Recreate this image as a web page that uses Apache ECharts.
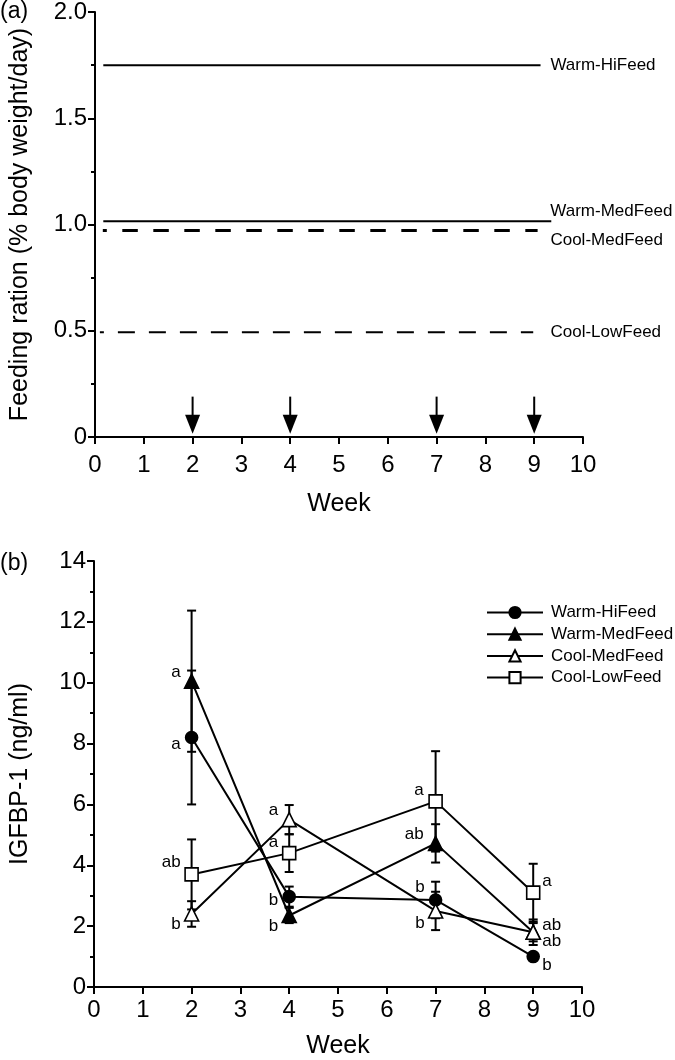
<!DOCTYPE html>
<html>
<head>
<meta charset="utf-8">
<script src="https://cdn.jsdelivr.net/npm/echarts@6/dist/echarts.min.js"></script>
<style>
html,body{margin:0;padding:0;background:#fff;}
#chart{width:675px;height:1060px;}
</style>
</head>
<body>
<div id="chart"></div>
<script>
// ---------- Panel (a): feeding rations ----------
const rationNames = ['Warm-HiFeed', 'Warm-MedFeed', 'Cool-MedFeed', 'Cool-LowFeed'];
const rationLevels = [1.75, 1.015, 0.972, 0.493];
const rationStart = [0.17, 0.17, 0.16, 0.1];
const rationEnd = [9.13, 9.35, 9.07, 8.98];
const samplingWeeks = [2, 4, 7, 9];
const arrowTop = 0.19;
const arrowTip = 0.015;
const weekTicksA = [0, 1, 2, 3, 4, 5, 6, 7, 8, 9, 10];
const rationTicks = [0, 0.5, 1.0, 1.5, 2.0];

// ---------- Panel (b): IGFBP-1 ----------
const weeks = [2, 4, 7, 9];
const seriesNames = ['Warm-HiFeed', 'Warm-MedFeed', 'Cool-MedFeed', 'Cool-LowFeed'];
const warmHi = [8.2, 2.97, 2.86, 1.0];
const warmHiErr = [2.2, 0.33, 0.6, 0.1];
const warmMed = [10.05, 2.35, 4.72, 1.8];
const warmMedErr = [2.32, 0.25, 0.63, 0.3];
const coolMed = [2.4, 5.5, 2.5, 1.8];
const coolMedErr = [0.42, 0.48, 0.63, 0.42];
const coolLow = [3.7, 4.4, 6.1, 3.1];
const coolLowErr = [1.15, 0.62, 1.65, 0.95];
const warmHiLetters = ['a', 'b', 'b', 'b'];
const warmMedLetters = ['a', 'b', 'ab', 'ab'];
const coolMedLetters = ['b', 'a', 'b', 'ab'];
const coolLowLetters = ['ab', 'a', 'a', 'a'];
const igfTicks = [0, 2, 4, 6, 8, 10, 12, 14];

// ---------- styles ----------
const FONT = '"Liberation Sans", Arial, Helvetica, sans-serif';
const BLACK = '#000';
const gridA = {left: 90, top: 10, width: 493, height: 427};
const gridB = {left: 89, top: 561, width: 493, height: 429};
const pxPerWeekA = gridA.width / 10;
const rationLabelWeek = 9.33;
const rationLabelDy = [0, -10, 10, 0];
const rationLineStyles = [
  {type: 'solid', width: 2},
  {type: 'solid', width: 2},
  {type: [15.5, 15.5], width: 3, dashOffset: 11.5},
  {type: [17, 14], width: 2, dashOffset: 13}
];
// letter label offsets (pixels) per series per week: [dx, dy]
const letterOffsets = {
  'Warm-HiFeed':  [[-11, 7], [-11, 4], [-11, -13], [9, 9]],
  'Warm-MedFeed': [[-11, -9], [-11, 11], [-12, -9], [9, 9.5]],
  'Cool-MedFeed': [[-11, 10], [-11, -9], [-11, 12], [9, -6.5]],
  'Cool-LowFeed': [[-11, -12], [-11, -11], [-12, -11], [9, -11]]
};
const symbolStyles = {
  'Warm-HiFeed':  {symbol: 'circle', size: 12, fill: BLACK},
  'Warm-MedFeed': {symbol: 'triangle', size: 14, fill: BLACK},
  'Cool-MedFeed': {symbol: 'triangle', size: 14, fill: '#fff'},
  'Cool-LowFeed': {symbol: 'rect', size: 13, fill: '#fff'}
};

const meansBy = {'Warm-HiFeed': warmHi, 'Warm-MedFeed': warmMed, 'Cool-MedFeed': coolMed, 'Cool-LowFeed': coolLow};
const errsBy = {'Warm-HiFeed': warmHiErr, 'Warm-MedFeed': warmMedErr, 'Cool-MedFeed': coolMedErr, 'Cool-LowFeed': coolLowErr};
const lettersBy = {'Warm-HiFeed': warmHiLetters, 'Warm-MedFeed': warmMedLetters, 'Cool-MedFeed': coolMedLetters, 'Cool-LowFeed': coolLowLetters};

function axisCommon(extra) {
  return Object.assign({
    type: 'value',
    axisLine: {show: true, onZero: false, lineStyle: {color: BLACK, width: 2}},
    axisTick: {show: true, inside: false, length: 7, lineStyle: {color: BLACK, width: 2}},
    splitLine: {show: false},
    axisLabel: {color: BLACK, fontSize: 24, fontFamily: FONT},
    nameTextStyle: {color: BLACK, fontSize: 25, fontFamily: FONT},
    nameLocation: 'middle'
  }, extra);
}

const series = [];

// panel (a) ration lines
rationNames.forEach(function (name, i) {
  series.push({
    type: 'line',
    name: name + ' ration',
    xAxisIndex: 0, yAxisIndex: 0,
    data: [[rationStart[i], rationLevels[i]], [rationEnd[i], rationLevels[i]]],
    showSymbol: false,
    symbol: 'none',
    silent: true,
    animation: false,
    lineStyle: Object.assign({color: BLACK}, rationLineStyles[i]),
    endLabel: {
      show: true,
      formatter: name,
      color: BLACK,
      fontSize: 17,
      fontFamily: FONT,
      distance: 0,
      align: 'left',
      verticalAlign: 'middle',
      offset: [(rationLabelWeek - rationEnd[i]) * pxPerWeekA, rationLabelDy[i]]
    }
  });
});

// panel (a) sampling arrows
series.push({
  type: 'custom',
  xAxisIndex: 0, yAxisIndex: 0,
  silent: true,
  animation: false,
  data: samplingWeeks.map(function (w) { return [w, arrowTop, arrowTip]; }),
  renderItem: function (params, api) {
    const top = api.coord([api.value(0), api.value(1)]);
    const tip = api.coord([api.value(0), api.value(2)]);
    const headLen = 19, halfW = 7.5;
    return {
      type: 'group',
      children: [
        {type: 'line', shape: {x1: top[0], y1: top[1], x2: tip[0], y2: tip[1] - headLen + 2},
          style: {stroke: BLACK, lineWidth: 2}},
        {type: 'polygon', shape: {points: [[tip[0], tip[1]], [tip[0] - halfW, tip[1] - headLen], [tip[0] + halfW, tip[1] - headLen]]},
          style: {fill: BLACK}}
      ]
    };
  }
});

// panel (b) error bars
seriesNames.forEach(function (name) {
  const m = meansBy[name], e = errsBy[name];
  series.push({
    type: 'custom',
    name: name + ' err',
    xAxisIndex: 1, yAxisIndex: 1,
    silent: true,
    animation: false,
    z: 1,
    data: weeks.map(function (w, i) { return [w, m[i] - e[i], m[i] + e[i]]; }),
    renderItem: function (params, api) {
      const lo = api.coord([api.value(0), api.value(1)]);
      const hi = api.coord([api.value(0), api.value(2)]);
      const cw = 4.5;
      const st = {stroke: BLACK, lineWidth: 2};
      return {
        type: 'group',
        children: [
          {type: 'line', shape: {x1: lo[0], y1: lo[1], x2: hi[0], y2: hi[1]}, style: st},
          {type: 'line', shape: {x1: lo[0] - cw, y1: lo[1], x2: lo[0] + cw, y2: lo[1]}, style: st},
          {type: 'line', shape: {x1: hi[0] - cw, y1: hi[1], x2: hi[0] + cw, y2: hi[1]}, style: st}
        ]
      };
    }
  });
});

// panel (b) means with letters
seriesNames.forEach(function (name) {
  const m = meansBy[name], L = lettersBy[name], off = letterOffsets[name], s = symbolStyles[name];
  series.push({
    type: 'line',
    name: name,
    xAxisIndex: 1, yAxisIndex: 1,
    z: 3,
    animation: false,
    symbol: s.symbol,
    symbolSize: s.size,
    showSymbol: true,
    lineStyle: {color: BLACK, width: 2},
    itemStyle: {color: s.fill, borderColor: BLACK, borderWidth: 1.6},
    data: weeks.map(function (w, i) {
      return {
        value: [w, m[i]],
        label: {
          show: true,
          formatter: L[i],
          position: 'inside',
          align: off[i][0] < 0 ? 'right' : 'left',
          verticalAlign: 'middle',
          offset: off[i],
          color: BLACK,
          fontSize: 17,
          fontFamily: FONT
        }
      };
    })
  });
});

const option = {
  backgroundColor: '#fff',
  animation: false,
  textStyle: {fontFamily: FONT, color: BLACK},
  grid: [
    Object.assign({containLabel: false}, gridA),
    Object.assign({containLabel: false}, gridB)
  ],
  legend: {
    data: seriesNames,
    orient: 'vertical',
    left: 481,
    top: 599,
    itemWidth: 56,
    itemHeight: 14,
    itemGap: 4.7,
    selectedMode: false,
    textStyle: {color: BLACK, fontSize: 17, fontFamily: FONT, lineHeight: 14, padding: [0, 0, 0, 3]}
  },
  xAxis: [
    axisCommon({gridIndex: 0, min: 0, max: 10, interval: 1, name: 'Week', nameGap: 55,
      axisLabel: {color: BLACK, fontSize: 24, fontFamily: FONT, margin: 16,
        formatter: function (v) { return weekTicksA.indexOf(v) >= 0 ? String(v) : ''; }}}),
    axisCommon({gridIndex: 1, min: 0, max: 10, interval: 1, name: 'Week', nameGap: 47,
      axisLabel: {color: BLACK, fontSize: 24, fontFamily: FONT, margin: 11}})
  ],
  yAxis: [
    axisCommon({gridIndex: 0, min: 0, max: 2, interval: 0.5, name: 'Feeding ration (% body weight/day)', nameGap: 62,
      minorTick: {show: true, splitNumber: 2, length: 4, lineStyle: {color: BLACK, width: 2}},
      axisLabel: {color: BLACK, fontSize: 24, fontFamily: FONT, margin: 8,
        formatter: function (v) { return rationTicks.indexOf(v) >= 0 ? (v === 0 ? '0' : v.toFixed(1)) : ''; }}}),
    axisCommon({gridIndex: 1, min: 0, max: 14, interval: 2, name: 'IGFBP-1 (ng/ml)', nameGap: 61,
      minorTick: {show: true, splitNumber: 2, length: 4, lineStyle: {color: BLACK, width: 2}},
      axisLabel: {color: BLACK, fontSize: 24, fontFamily: FONT, margin: 8,
        formatter: function (v) { return igfTicks.indexOf(v) >= 0 ? String(v) : ''; }}})
  ],
  graphic: [
    {type: 'text', left: 0, top: 0, style: {text: '(a)', fontSize: 23, fontFamily: FONT, fill: BLACK}},
    {type: 'text', left: 0, top: 552, style: {text: '(b)', fontSize: 23, fontFamily: FONT, fill: BLACK}}
  ],
  series: series
};

const chart = echarts.init(document.getElementById('chart'), null, {renderer: 'canvas'});
chart.setOption(option);
</script>
</body>
</html>
